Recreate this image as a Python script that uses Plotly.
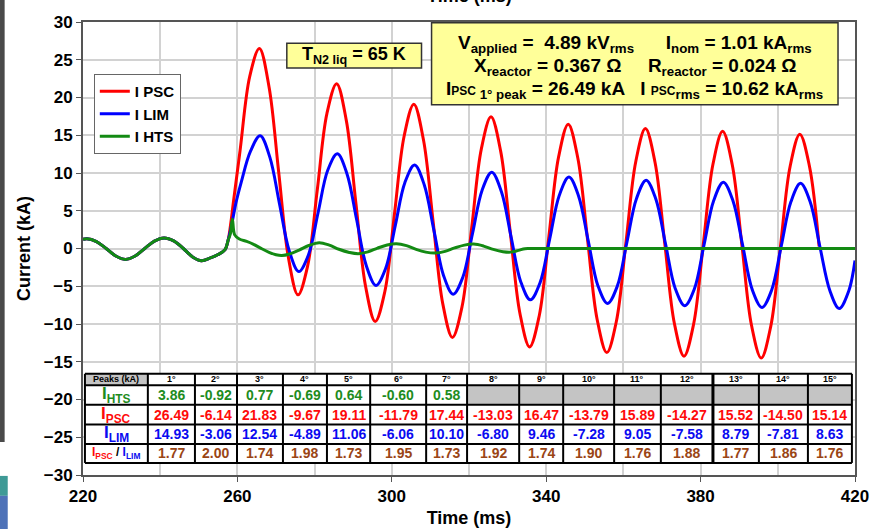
import plotly.graph_objects as go

# ---------------- data ----------------
# common pre-fault load current (all three currents coincide here)
pre_t = [220, 221, 223.5, 226, 228.5, 231, 233.5, 236, 238.5, 241, 243.5, 246, 248.5, 250.7, 253, 255, 256.8]
pre_i = [1.2, 1.3, 0.92, 0.0, -1.0, -1.45, -1.0, 0.0, 0.98, 1.4, 1.0, 0.0, -1.15, -1.62, -1.25, -0.8, -0.15]

peak_labels = ["1°", "2°", "3°", "4°", "5°", "6°", "7°", "8°", "9°", "10°", "11°", "12°", "13°", "14°", "15°"]

# prospective short-circuit current
psc_peaks = [26.49, -6.14, 21.83, -9.67, 19.11, -11.79, 17.44, -13.03, 16.47, -13.79, 15.89, -14.27, 15.52, -14.50, 15.14]
psc_peak_t = [265.7, 275.7, 285.7, 295.7, 305.7, 315.7, 325.7, 335.7, 345.7, 355.7, 365.7, 375.7, 385.7, 395.7, 405.7]
psc_mid_t = [257.6, 258.3, 259.0, 260.7, 263.2,
             268.2, 270.7, 273.2, 278.2, 280.7, 283.2,
             288.2, 290.7, 293.2, 298.2, 300.7, 303.2,
             308.2, 310.7, 313.2, 318.2, 320.7, 323.2,
             328.2, 330.7, 333.2, 338.2, 340.7, 343.2,
             348.2, 350.7, 353.2, 358.2, 360.7, 363.2,
             368.2, 370.7, 373.2, 378.2, 380.7, 383.2,
             388.2, 390.7, 393.2, 398.2, 400.7, 403.2,
             408.2, 410.7]
psc_mid_i = [1.1, 3.4, 6.3, 13.0, 22.8,
             21.4, 10.1, -1.15, -2.3, 7.78, 17.9,
             17.0, 6.0, -5.0, -5.7, 4.62, 14.9,
             14.4, 3.57, -7.3, -7.7, 2.75, 13.2,
             12.9, 2.12, -8.6, -8.9, 1.63, 12.1,
             11.95, 1.26, -9.4, -9.6, 0.97, 11.5,
             11.4, 0.75, -9.9, -10.0, 0.58, 11.15,
             11.1, 0.45, -10.2, -10.25, 0.35, 10.9,
             10.9, 0.27]

# limited current
lim_peaks = [14.93, -3.06, 12.54, -4.89, 11.06, -6.06, 10.10, -6.80, 9.46, -7.28, 9.05, -7.58, 8.79, -7.81, 8.63]
lim_peak_t = [265.9, 275.9, 285.9, 295.9, 305.9, 315.9, 325.9, 335.9, 345.9, 355.9, 365.9, 375.9, 385.9, 395.9, 405.9]
lim_mid_t = [257.6, 258.3, 258.8, 259.6, 261.0, 263.4,
             268.4, 270.9, 273.4, 278.4, 280.9, 283.4,
             288.4, 290.9, 293.4, 298.4, 300.9, 303.4,
             308.4, 310.9, 313.4, 318.4, 320.9, 323.4,
             328.4, 330.9, 333.4, 338.4, 340.9, 343.4,
             348.4, 350.9, 353.4, 358.4, 360.9, 363.4,
             368.4, 370.9, 373.4, 378.4, 380.9, 383.4,
             388.4, 390.9, 393.4, 398.4, 400.9, 403.4,
             408.4, 410.9, 413.5, 415.9, 418.4, 420.0]
lim_mid_i = [1.1, 2.6, 3.9, 6.0, 8.8, 12.9,
             12.1, 5.93, -0.26, -0.86, 4.74, 10.36,
             9.88, 3.80, -2.28, -2.65, 3.04, 8.75,
             8.45, 2.44, -3.56, -3.81, 1.95, 7.72,
             7.52, 1.56, -4.39, -4.55, 1.25, 7.05,
             6.93, 1.0, -4.92, -5.02, 0.8, 6.63,
             6.55, 0.64, -5.26, -5.33, 0.51, 6.36,
             6.3, 0.41, -5.48, -5.52, 0.33, 6.18,
             6.15, 0.26, -5.6, -7.95, -5.6, -1.6]

# current in the HTS element
hts_peaks = [3.86, -0.92, 0.77, -0.69, 0.64, -0.60, 0.58]
hts_peak_t = [258.7, 271.5, 281.2, 291.3, 301.2, 311.3, 321.2]
hts_mid_t = [257.6, 258.2, 259.3, 260.5, 262.4, 264.2, 266.0, 268.2, 270.0,
             273.5, 276.0, 278.5, 283.8, 286.3, 289.0, 293.8, 296.3, 298.8,
             303.8, 306.3, 308.8, 313.8, 316.3, 318.8, 323.8, 326.3, 328.8,
             330.8, 332.8, 334.5, 336.0, 420.0]
hts_mid_i = [1.1, 2.0, 1.8, 1.25, 0.94, 0.55, 0.05, -0.5, -0.82,
             -0.72, -0.2, 0.4, 0.45, -0.1, -0.52, -0.45, 0.05, 0.47,
             0.38, -0.12, -0.48, -0.38, 0.08, 0.45, 0.32, -0.12, -0.42,
             -0.48, -0.25, -0.02, 0.0, 0.0]

ratio_vals = [1.77, 2.00, 1.74, 1.98, 1.73, 1.95, 1.73, 1.92, 1.74, 1.90, 1.76, 1.88, 1.77, 1.86, 1.76]

# ---------------- styling ----------------
FONT = "Arial, Liberation Sans, sans-serif"
RED, BLUE, GREEN = "#FF0000", "#0000FF", "#138A13"
T_RED, T_BLUE, T_GREEN, T_BROWN = "#FF0A0A", "#0A0AF0", "#1E8C1E", "#9A4515"


def build(mid_t, mid_i, pk_t, pk_i):
    pts = list(zip(pre_t, pre_i)) + list(zip(mid_t, mid_i)) + list(zip(pk_t, pk_i))
    pts.sort(key=lambda p: p[0])
    return [p[0] for p in pts], [p[1] for p in pts]


fig = go.Figure()
for name, color, args in [
    ("I PSC", RED, (psc_mid_t, psc_mid_i, psc_peak_t, psc_peaks)),
    ("I LIM", BLUE, (lim_mid_t, lim_mid_i, lim_peak_t, lim_peaks)),
    ("I HTS", GREEN, (hts_mid_t, hts_mid_i, hts_peak_t, hts_peaks)),
]:
    xs, ys = build(*args)
    fig.add_trace(go.Scatter(x=xs, y=ys, mode="lines", name=name,
                             line=dict(color=color, width=3, shape="spline", smoothing=1.0)))

# ---------------- peak table ----------------
col_edges = [220.5, 236.8, 249.0, 259.9, 271.8, 283.2, 294.4, 308.9, 319.5,
             333.0, 344.4, 357.6, 369.7, 383.2, 395.1, 407.8, 419.2]
row_edges = [-16.6, -18.1, -20.7, -23.3, -25.9, -28.4]

shapes = []
n_cols = len(col_edges) - 1
for r in range(len(row_edges) - 1):
    for c in range(n_cols):
        gray = (r == 0 and c == 0) or (r == 1 and c - 1 >= len(hts_peaks))
        shapes.append(dict(type="rect", xref="x", yref="y", layer="above",
                           x0=col_edges[c], x1=col_edges[c + 1],
                           y0=row_edges[r + 1], y1=row_edges[r],
                           fillcolor="#C4C4C4" if gray else "white", line=dict(width=0)))
for k, yv in enumerate(row_edges):
    shapes.append(dict(type="line", xref="x", yref="y", layer="above",
                       x0=col_edges[0], x1=col_edges[-1], y0=yv, y1=yv,
                       line=dict(color="black", width=2)))
for k, xv in enumerate(col_edges):
    w = 3 if k == 13 else 2
    shapes.append(dict(type="line", xref="x", yref="y", layer="above",
                       x0=xv, x1=xv, y0=row_edges[0], y1=row_edges[-1],
                       line=dict(color="black", width=w)))

ann = []


def cell(c, r, text, color="black", size=14):
    ann.append(dict(xref="x", yref="y", x=(col_edges[c] + col_edges[c + 1]) / 2,
                    y=(row_edges[r] + row_edges[r + 1]) / 2, text=text, showarrow=False,
                    font=dict(family=FONT, size=size, color=color, weight="bold"),
                    xanchor="center", yanchor="middle"))


cell(0, 0, "Peaks (kA)", size=9)
for c, lab in enumerate(peak_labels):
    cell(c + 1, 0, lab, size=9)
cell(0, 1, "I<sub>HTS</sub>", T_GREEN, 17)
cell(0, 2, "I<sub>PSC</sub>", T_RED, 17)
cell(0, 3, "I<sub>LIM</sub>", T_BLUE, 17)
cell(0, 4, f"<span style='color:{T_RED}'>I<sub>PSC</sub></span>"
           f"<span style='color:black'> / </span>"
           f"<span style='color:{T_BLUE}'>I<sub>LIM</sub></span>", size=12)
for c, v in enumerate(hts_peaks):
    cell(c + 1, 1, f"{v:.2f}", T_GREEN)
for c, v in enumerate(psc_peaks):
    cell(c + 1, 2, f"{v:.2f}", T_RED)
for c, v in enumerate(lim_peaks):
    cell(c + 1, 3, f"{v:.2f}", T_BLUE)
for c, v in enumerate(ratio_vals):
    cell(c + 1, 4, f"{v:.2f}", T_BROWN)

# ---------------- info boxes ----------------
shapes.append(dict(type="rect", xref="x", yref="y", layer="above",
                   x0=272.8, x1=307.7, y0=23.9, y1=27.2,
                   fillcolor="#FFFF99", line=dict(color="#333333", width=1.5)))
ann.append(dict(xref="x", yref="y", x=290.2, y=25.55, showarrow=False,
                text="T<sub>N2 liq</sub> = 65 K",
                font=dict(family=FONT, size=18, color="black", weight="bold")))

shapes.append(dict(type="rect", xref="x", yref="y", layer="above",
                   x0=310.3, x1=415.6, y0=19.05, y1=29.9,
                   fillcolor="#FFFF99", line=dict(color="#333333", width=1.5)))
info_lines = [
    ("V<sub>applied</sub> =  4.89 kV<sub>rms</sub>      I<sub>nom</sub> = 1.01 kA<sub>rms</sub>", 27.1),
    ("X<sub>reactor</sub> = 0.367 Ω     R<sub>reactor</sub> = 0.024 Ω", 24.07),
    ("I<span style='font-size:12px'>PSC</span><sub> 1° peak</sub> = 26.49 kA   "
     "I <span style='font-size:12px'>PSC</span><sub>rms</sub> = 10.62 kA<sub>rms</sub>", 21.03),
]
for txt, yv in info_lines:
    ann.append(dict(xref="x", yref="y", x=363.0, y=yv, showarrow=False, text=txt,
                    font=dict(family=FONT, size=19, color="black", weight="bold")))

# upper axis caption (cut by the page edge)
ann.append(dict(xref="paper", yref="paper", x=0.5, y=1.058, showarrow=False,
                text="Time (ms)", yanchor="middle",
                font=dict(family=FONT, size=18, color="black", weight="bold")))

# dark frame strip on the far left
shapes.append(dict(type="rect", xref="paper", yref="paper", layer="above",
                   x0=-0.1075, x1=-0.1015, y0=0.073, y1=1.06,
                   fillcolor="#4A4A4A", line=dict(width=0)))
shapes.append(dict(type="rect", xref="paper", yref="paper", layer="above",
                   x0=-0.1075, x1=-0.0975, y0=-0.046, y1=-0.002,
                   fillcolor="#3E9A96", line=dict(width=0)))
shapes.append(dict(type="rect", xref="paper", yref="paper", layer="above",
                   x0=-0.1075, x1=-0.0975, y0=-0.12, y1=-0.046,
                   fillcolor="#4E72B8", line=dict(width=0)))

fig.update_layout(
    width=871, height=529,
    margin=dict(l=83, r=16, t=22, b=54),
    paper_bgcolor="white", plot_bgcolor="white",
    font=dict(family=FONT, color="black"),
    shapes=shapes, annotations=ann,
    showlegend=True,
    legend=dict(x=0.014, y=0.885, xanchor="left", yanchor="top",
                bgcolor="white", bordercolor="#666666", borderwidth=1,
                font=dict(family=FONT, size=15, color="black", weight="bold"),
                tracegroupgap=0, itemwidth=30),
    xaxis=dict(range=[220, 420], tick0=220, dtick=40, ticks="outside", ticklen=5,
               tickcolor="#555555", showgrid=True, gridcolor="#D2D2D2", gridwidth=1.5,
               minor=dict(dtick=20, showgrid=True, gridcolor="#D2D2D2", gridwidth=1.5),
               showline=True, mirror=True, linecolor="#555555", linewidth=2,
               zeroline=False, automargin=False,
               tickfont=dict(family=FONT, size=17, color="black", weight="bold"),
               title=dict(text="Time (ms)", standoff=6,
                          font=dict(family=FONT, size=18, color="black", weight="bold"))),
    yaxis=dict(range=[-30, 30], tick0=-30, dtick=5, ticks="outside", ticklen=5,
               tickcolor="#555555", showgrid=True, gridcolor="#D2D2D2", gridwidth=1.5,
               showline=True, mirror=True, linecolor="#555555", linewidth=2,
               zeroline=False, automargin=False,
               tickfont=dict(family=FONT, size=17, color="black", weight="bold"),
               title=dict(text="Current (kA)", standoff=8,
                          font=dict(family=FONT, size=18, color="black", weight="bold"))),
)

fig.write_html("out.html")
